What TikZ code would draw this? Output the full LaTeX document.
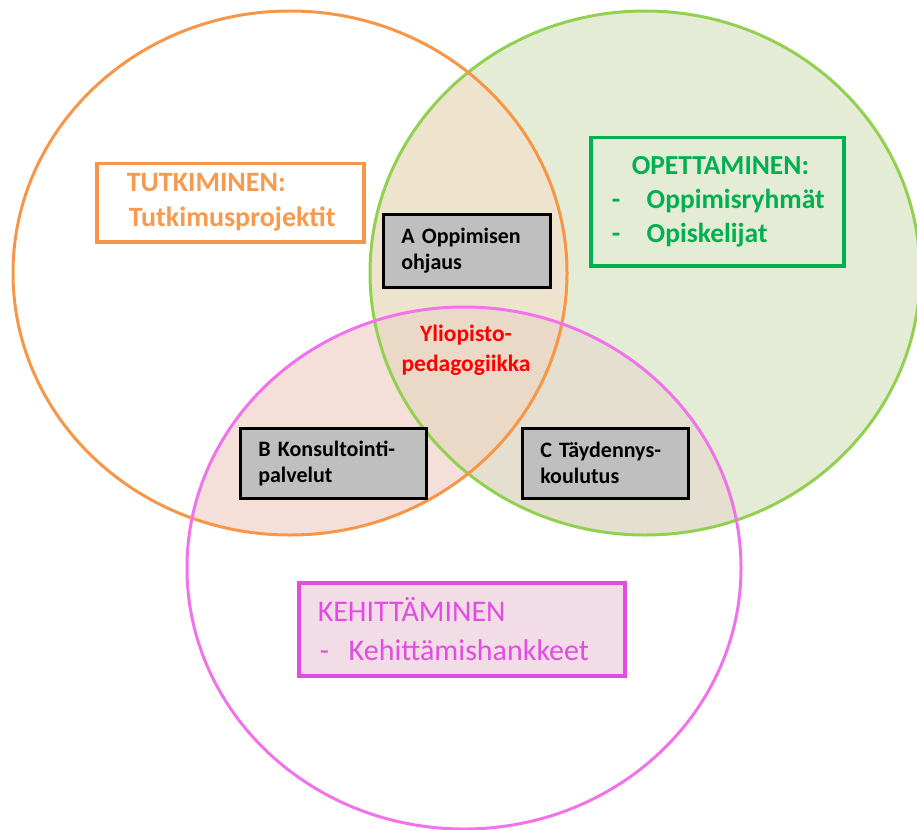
\documentclass[tikz,border=0pt]{standalone}
\usepackage{fontspec}
\setmainfont{Carlito}
\usetikzlibrary{positioning}

\definecolor{tutline}{HTML}{F79646}
\definecolor{opeline}{HTML}{92D050}
\definecolor{kehline}{HTML}{F272EA}
\definecolor{opefill}{HTML}{E4ECD6}
\definecolor{tofill}{HTML}{EEE3CC}
\definecolor{tkfill}{HTML}{F4E0D9}
\definecolor{okfill}{HTML}{E5DFCF}
\definecolor{midfill}{HTML}{EBD9C8}
\definecolor{tuttext}{HTML}{F79A4E}
\definecolor{opetext}{HTML}{00B050}
\definecolor{kehtext}{HTML}{E24CE2}
\definecolor{kehbox}{HTML}{F2DCE6}
\definecolor{boxgrey}{HTML}{BFBFBF}

\begin{document}
\begin{tikzpicture}[x=1pt, y=-1pt,
  ring/.style={line width=3pt},
  areabox/.style={line width=3.5pt, align=left, anchor=north west},
  greybox/.style={draw=black, fill=boxgrey, line width=2.5pt,
    align=left, anchor=north west, inner xsep=18pt,
    font=\bfseries\fontsize{22}{26}\selectfont}
]
  \useasboundingbox (0,0) rectangle (917,829);

  % === Circles ===
  \coordinate (tut) at (290,273);
  \coordinate (ope) at (645,273);
  \coordinate (keh) at (464,568);

  % Fills
  \fill[opefill] (ope) ellipse [x radius=275pt, y radius=262pt];
  \begin{scope}
    \clip (tut) ellipse [x radius=277pt, y radius=262pt];
    \fill[tofill] (ope) ellipse [x radius=275pt, y radius=262pt];
    \fill[tkfill] (keh) ellipse [x radius=277pt, y radius=261pt];
  \end{scope}
  \begin{scope}
    \clip (ope) ellipse [x radius=275pt, y radius=262pt];
    \fill[okfill] (keh) ellipse [x radius=277pt, y radius=261pt];
    \clip (tut) ellipse [x radius=277pt, y radius=262pt];
    \fill[midfill] (keh) ellipse [x radius=277pt, y radius=261pt];
  \end{scope}

  % Outlines
  \draw[ring, opeline] (ope) ellipse [x radius=275pt, y radius=262pt];
  \draw[ring, tutline] (tut) ellipse [x radius=277pt, y radius=262pt];
  \draw[ring, kehline] (keh) ellipse [x radius=277pt, y radius=261pt];

  % === Area boxes ===
  \node[areabox, draw=tutline, fill=white, text=tuttext,
    minimum width=267, minimum height=78, inner xsep=30pt, text width=207,
    font=\bfseries\fontsize{28}{35}\selectfont]
    (tutbox) at (95,162)
    {\mbox{TUTKIMINEN:}\\\mbox{\hspace*{2pt}Tutkimusprojektit}};

  \node[areabox, draw=opetext, fill=opefill, text=opetext,
    minimum width=253, minimum height=128, inner xsep=21pt, text width=211,
    font=\bfseries\fontsize{27.5}{34}\selectfont]
    (opebox) at (589,136)
    {\mbox{\hspace*{20pt}OPETTAMINEN:}\\
     \mbox{\makebox[35pt][l]{-}Oppimisryhmät}\\
     \mbox{\makebox[35pt][l]{-}Opiskelijat}};

  \node[areabox, draw=kehtext, fill=kehbox, text=kehtext,
    minimum width=326, minimum height=93, inner xsep=19pt, text width=288,
    font=\fontsize{30}{39}\selectfont]
    (kehbox) at (297,581)
    {\mbox{KEHITTÄMINEN}\\
     \mbox{\hspace*{2pt}\makebox[29pt][l]{-}Kehittämishankkeet}};

  % === Overlap boxes ===
  \node[greybox, minimum width=167, minimum height=73, text width=131]
    (ohjaus) at (382,213) {A Oppimisen\\ohjaus};
  \node[greybox, minimum width=186, minimum height=70, text width=150]
    (konsult) at (239,427) {\mbox{B Konsultointi-}\\palvelut};
  \node[greybox, minimum width=166, minimum height=70, text width=130]
    (taydkoul) at (521,427) {\mbox{C Täydennys-}\\koulutus};

  % Centre label
  \node[text=red, align=center, font=\bfseries\fontsize{23.5}{30}\selectfont]
    (ypped) at (466,350) {Yliopisto-\\pedagogiikka};
\end{tikzpicture}
\end{document}
